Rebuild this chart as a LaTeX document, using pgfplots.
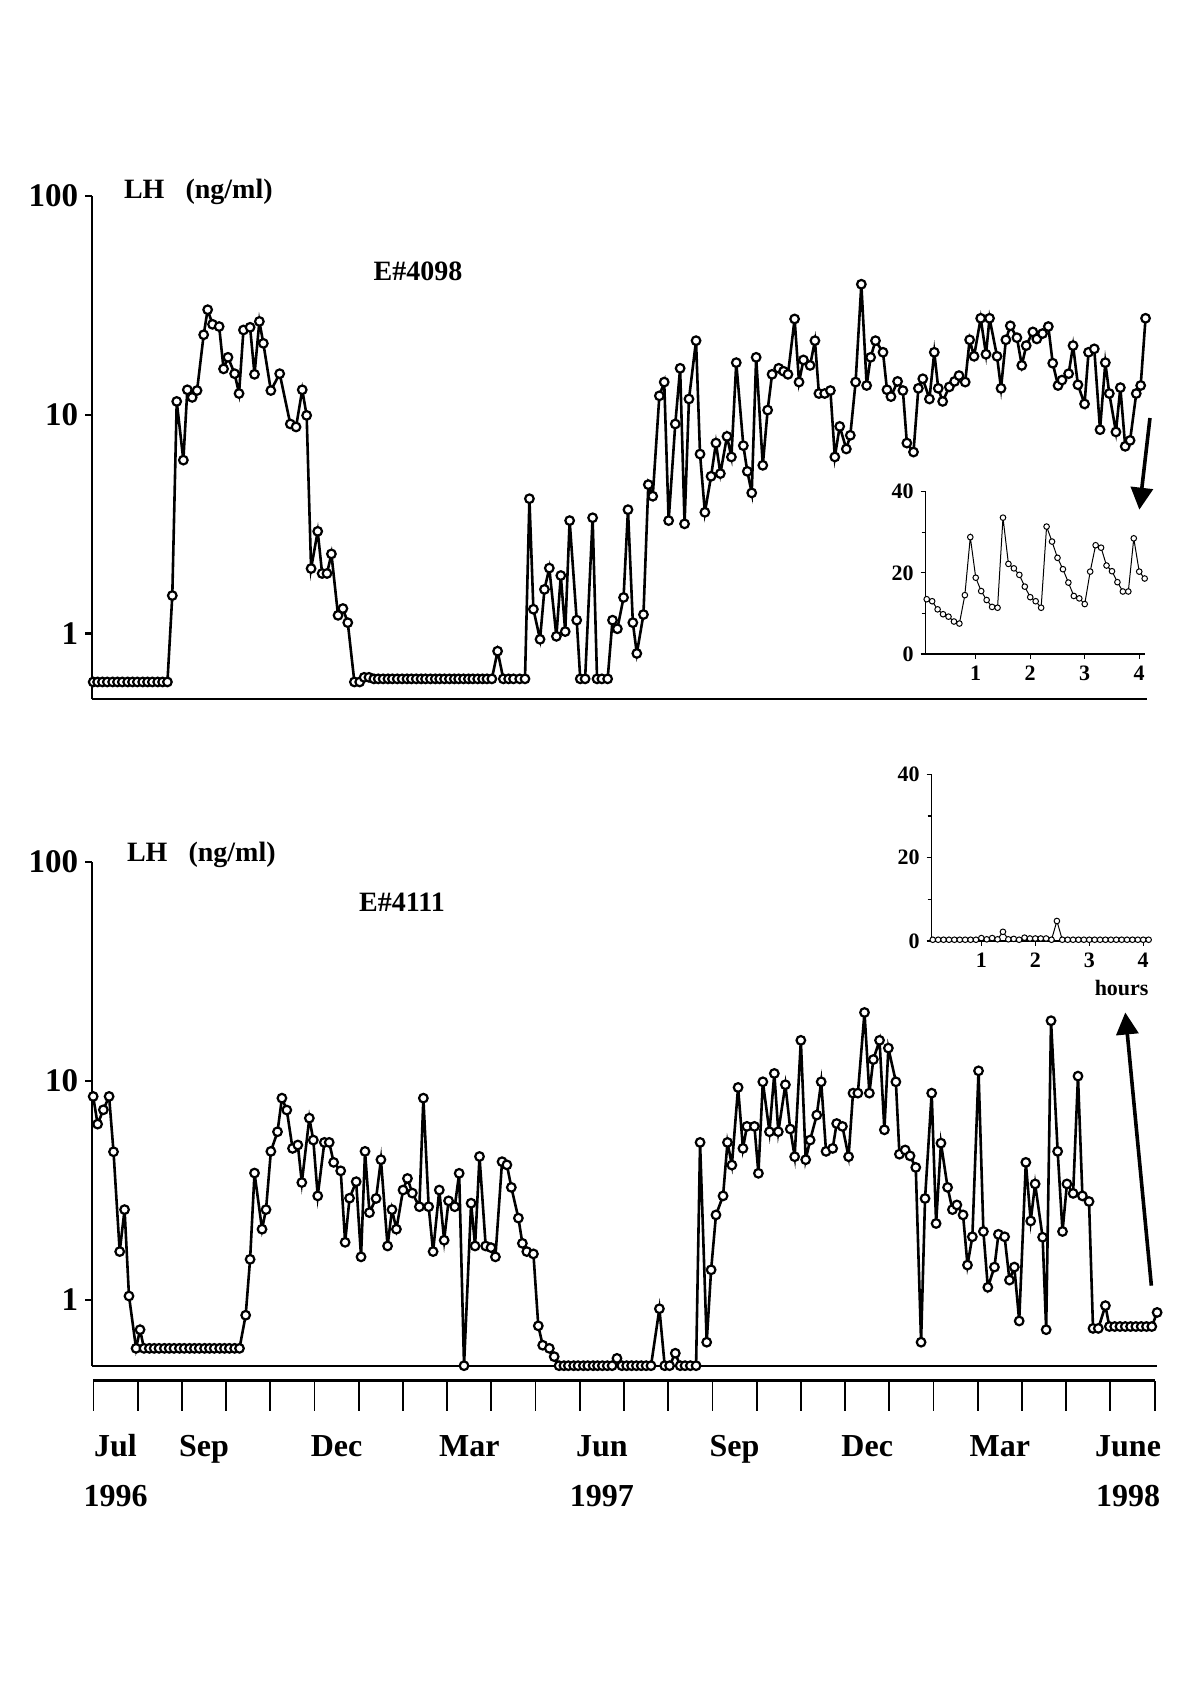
\documentclass[border=0pt]{standalone}
\usepackage{fontspec}
\setmainfont{Liberation Serif}
\usepackage{pgfplots}
\pgfplotsset{compat=1.18}
\usetikzlibrary{arrows.meta}

\pgfplotstableread{
x y
0.00 0.60
0.10 0.60
0.21 0.60
0.32 0.60
0.44 0.60
0.55 0.60
0.66 0.60
0.78 0.60
0.89 0.60
1.00 0.60
1.12 0.60
1.23 0.60
1.34 0.60
1.46 0.60
1.57 0.60
1.68 0.60
1.79 1.49
1.89 11.5
2.04 6.2
2.13 13.0
2.24 12.0
2.35 12.9
2.50 23.2
2.59 30.2
2.70 25.9
2.85 25.3
2.95 16.2
3.05 18.3
3.20 15.4
3.30 12.5
3.40 24.4
3.55 25.1
3.65 15.3
3.76 26.7
3.85 21.2
4.02 12.9
4.22 15.4
4.46 9.07
4.59 8.79
4.73 13.0
4.83 9.93
4.93 1.98
5.08 2.93
5.18 1.88
5.29 1.88
5.39 2.31
5.54 1.21
5.65 1.30
5.76 1.12
5.91 0.60
6.03 0.60
6.13 0.63
6.24 0.63
6.35 0.62
6.45 0.62
6.56 0.62
6.67 0.62
6.77 0.62
6.88 0.62
6.99 0.62
7.10 0.62
7.20 0.62
7.31 0.62
7.42 0.62
7.52 0.62
7.63 0.62
7.74 0.62
7.84 0.62
7.95 0.62
8.06 0.62
8.17 0.62
8.27 0.62
8.38 0.62
8.49 0.62
8.59 0.62
8.70 0.62
8.81 0.62
8.91 0.62
9.02 0.62
9.15 0.83
9.28 0.62
9.40 0.62
9.51 0.62
9.65 0.62
9.77 0.62
9.87 4.13
9.96 1.29
10.11 0.94
10.21 1.59
10.32 1.99
10.48 0.97
10.58 1.84
10.68 1.02
10.78 3.28
10.94 1.15
11.02 0.62
11.13 0.62
11.30 3.38
11.40 0.62
11.51 0.62
11.64 0.62
11.75 1.15
11.86 1.05
12.00 1.46
12.10 3.68
12.21 1.12
12.30 0.81
12.45 1.22
12.56 4.79
12.66 4.24
12.81 12.2
12.92 14.1
13.02 3.28
13.17 9.07
13.28 16.3
13.38 3.17
13.48 11.8
13.64 21.8
13.73 6.61
13.84 3.58
13.98 5.23
14.09 7.42
14.19 5.38
14.34 7.96
14.44 6.41
14.55 17.3
14.71 7.22
14.80 5.51
14.90 4.39
15.00 18.3
15.15 5.87
15.26 10.5
15.36 15.3
15.51 16.3
15.62 15.8
15.72 15.3
15.87 27.4
15.97 14.1
16.07 17.8
16.22 16.8
16.33 21.8
16.42 12.5
16.55 12.5
16.68 12.9
16.78 6.41
16.89 8.84
17.04 6.97
17.13 8.05
17.25 14.1
17.38 39.5
17.50 13.6
17.59 18.3
17.70 21.8
17.87 19.3
17.96 13.0
18.05 12.1
18.20 14.2
18.32 12.9
18.41 7.42
18.56 6.75
18.67 13.2
18.77 14.6
18.92 11.8
19.03 19.3
19.12 13.2
19.22 11.5
19.37 13.4
19.49 14.2
19.59 15.1
19.73 14.1
19.83 22.0
19.93 18.5
20.08 27.6
20.20 18.9
20.28 27.6
20.45 18.5
20.54 13.2
20.65 22.0
20.75 25.5
20.90 22.5
21.01 16.8
21.11 20.7
21.26 23.9
21.35 22.2
21.48 23.5
21.61 25.3
21.71 17.2
21.83 13.6
21.92 14.4
22.07 15.4
22.17 20.7
22.28 13.7
22.43 11.2
22.52 19.3
22.65 20.0
22.78 8.54
22.90 17.3
22.99 12.5
23.14 8.34
23.24 13.3
23.35 7.17
23.46 7.63
23.60 12.5
23.70 13.6
23.81 27.6
}\topdata

\pgfplotstableread{
x y
0.00 8.48
0.10 6.34
0.23 7.37
0.36 8.48
0.46 4.74
0.60 1.66
0.71 2.58
0.81 1.04
0.97 0.60
1.06 0.73
1.15 0.60
1.27 0.60
1.38 0.60
1.49 0.60
1.61 0.60
1.72 0.60
1.83 0.60
1.95 0.60
2.06 0.60
2.18 0.60
2.29 0.60
2.40 0.60
2.52 0.60
2.63 0.60
2.74 0.60
2.86 0.60
2.97 0.60
3.08 0.60
3.20 0.60
3.31 0.60
3.45 0.85
3.55 1.53
3.65 3.79
3.82 2.10
3.91 2.58
4.02 4.76
4.17 5.85
4.27 8.33
4.38 7.35
4.51 4.91
4.63 5.09
4.72 3.43
4.89 6.75
4.98 5.36
5.08 2.98
5.23 5.23
5.34 5.23
5.44 4.24
5.60 3.88
5.70 1.83
5.80 2.91
5.95 3.46
6.06 1.57
6.15 4.76
6.25 2.50
6.40 2.90
6.51 4.36
6.66 1.76
6.76 2.58
6.86 2.10
7.01 3.17
7.11 3.58
7.22 3.07
7.38 2.66
7.47 8.33
7.59 2.66
7.69 1.66
7.83 3.17
7.94 1.87
8.04 2.83
8.18 2.66
8.28 3.78
8.39 0.50
8.55 2.76
8.64 1.76
8.74 4.51
8.88 1.76
9.00 1.73
9.10 1.57
9.25 4.27
9.36 4.13
9.46 3.26
9.62 2.36
9.71 1.81
9.81 1.66
9.96 1.62
10.07 0.76
10.17 0.62
10.32 0.60
10.43 0.55
10.54 0.50
10.65 0.50
10.75 0.50
10.87 0.50
10.97 0.50
11.09 0.50
11.19 0.50
11.31 0.50
11.41 0.50
11.52 0.50
11.63 0.50
11.74 0.50
11.85 0.54
11.96 0.50
12.07 0.50
12.18 0.50
12.29 0.50
12.40 0.50
12.51 0.50
12.62 0.50
12.81 0.91
12.93 0.50
13.04 0.50
13.17 0.57
13.28 0.50
13.39 0.50
13.51 0.50
13.64 0.50
13.73 5.23
13.88 0.64
13.98 1.37
14.09 2.44
14.25 2.98
14.35 5.23
14.45 4.12
14.59 9.32
14.70 4.91
14.79 6.19
14.96 6.19
15.05 3.78
15.15 9.89
15.30 5.85
15.41 10.8
15.50 5.85
15.66 9.59
15.77 6.02
15.87 4.50
16.01 15.3
16.12 4.36
16.22 5.36
16.37 6.97
16.47 9.89
16.58 4.76
16.73 4.91
16.82 6.38
16.95 6.19
17.09 4.50
17.19 8.78
17.30 8.78
17.45 20.5
17.56 8.78
17.65 12.5
17.79 15.3
17.90 5.97
17.99 14.1
18.16 9.89
18.24 4.62
18.37 4.83
18.48 4.54
18.61 4.02
18.73 0.64
18.82 2.90
18.97 8.78
19.07 2.23
19.18 5.19
19.33 3.26
19.44 2.58
19.54 2.71
19.68 2.44
19.78 1.44
19.89 1.94
20.03 11.1
20.14 2.05
20.24 1.14
20.39 1.41
20.48 1.99
20.62 1.94
20.73 1.23
20.84 1.41
20.95 0.80
21.10 4.24
21.21 2.29
21.31 3.38
21.48 1.93
21.56 0.73
21.67 18.8
21.82 4.76
21.93 2.05
22.03 3.38
22.17 3.06
22.28 10.5
22.38 2.98
22.53 2.81
22.62 0.74
22.74 0.74
22.90 0.94
22.99 0.755
23.11 0.755
23.23 0.755
23.35 0.755
23.47 0.755
23.59 0.755
23.71 0.755
23.83 0.755
23.95 0.755
24.07 0.875
}\botdata

\pgfplotstableread{
h v
0.1 13.5
0.2 13.0
0.3 11.0
0.4 9.8
0.5 9.2
0.6 8.0
0.7 7.5
0.8 14.5
0.9 28.8
1.0 18.8
1.1 15.5
1.2 13.3
1.3 11.6
1.4 11.4
1.5 33.6
1.6 22.2
1.7 21.1
1.8 19.5
1.9 16.6
2.0 14.0
2.1 13.0
2.2 11.4
2.3 31.4
2.4 27.7
2.5 23.7
2.6 20.9
2.7 17.6
2.8 14.3
2.9 13.7
3.0 12.3
3.1 20.3
3.2 26.8
3.3 26.2
3.4 21.8
3.5 20.4
3.6 17.7
3.7 15.4
3.8 15.4
3.9 28.5
4.0 20.3
4.1 18.6
}\insettop

\pgfplotstableread{
h v
0.1 0.3
0.2 0.3
0.3 0.3
0.4 0.3
0.5 0.3
0.6 0.3
0.7 0.3
0.8 0.3
0.9 0.3
1.0 0.7
1.1 0.4
1.2 0.7
1.3 0.4
1.4 2.2
1.5 0.4
1.6 0.5
1.7 0.3
1.8 0.8
1.9 0.6
2.0 0.6
2.1 0.6
2.2 0.6
2.3 0.3
2.4 4.8
2.5 0.3
2.6 0.3
2.7 0.3
2.8 0.3
2.9 0.3
3.0 0.3
3.1 0.3
3.2 0.3
3.3 0.3
3.4 0.3
3.5 0.3
3.6 0.3
3.7 0.3
3.8 0.3
3.9 0.3
4.0 0.3
4.1 0.3
}\insetbot

\pgfplotsset{
  mainax/.style={
    scale only axis, anchor=south west,
    ymin=0.5, ymax=100, xmin=-0.02,
    axis x line*=bottom, axis y line*=left,
    axis line style={line width=1.1pt},
    xtick=\empty,
    ytick={1,10,100}, yticklabels={1,10,100},
    yminorticks=false,
    tick align=outside, major tick length=3.5pt,
    tick style={line width=1.1pt, black},
    yticklabel style={font=\bfseries\fontsize{16.5}{16.5}\selectfont},
    clip=false,
  },
  mainplot/.style={black, line width=1.3pt, mark=*, mark size=2.15pt,
    mark options={fill=white, draw=black, line width=1.1pt, solid}},
  insetax/.style={
    scale only axis, anchor=south west,
    xmin=0.08, ymin=0, ymax=40,
    axis x line*=bottom, axis y line*=left,
    axis line style={line width=0.6pt},
    xtick={1,2,3,4}, ytick={0,20,40}, minor ytick={10,30},
    tick align=outside, major tick length=2.5pt, minor tick length=2pt,
    tick style={line width=0.6pt, black},
    ticklabel style={font=\bfseries\fontsize{11}{11}\selectfont},
    /pgf/number format/assume math mode=true,
    clip=false,
  },
  insetplot/.style={black, line width=0.5pt, mark=*, mark size=1.4pt,
    mark options={fill=white, draw=black, line width=0.5pt, solid}},
}
\tikzset{mlab/.style={font=\bfseries\fontsize{16}{16}\selectfont, anchor=base}}

\begin{document}
\begin{tikzpicture}
\path[use as bounding box] (0,0) rectangle (599pt,848pt);

% top main panel
\begin{semilogyaxis}[mainax, at={(46.15pt,498.35pt)}, width=527.5pt, height=251.65pt, xmax=23.85]
\addplot[mainplot] table[x=x,y=y] {\topdata};
\draw[line width=1.8pt, -{Triangle[length=11pt,width=11pt]}] (axis cs:23.91,9.66) -- (axis cs:23.67,3.68);
\end{semilogyaxis}
\node[anchor=west, font=\bfseries\fontsize{14}{14}\selectfont] at (58.5pt,752pt) {LH\ \ \ (ng/ml)};
\node[font=\bfseries\fontsize{14}{14}\selectfont] at (209pt,712.5pt) {E\#4098};

% top inset
\begin{axis}[insetax, at={(462.8pt,521pt)}, width=109.8pt, height=81.15pt, xmax=4.11]
\addplot[insetplot] table[x=h,y=v] {\insettop};
\end{axis}

% bottom main panel
\begin{semilogyaxis}[mainax, at={(46.15pt,165.15pt)}, width=532.4pt, height=251.96pt, xmax=24.07]
\addplot[mainplot] table[x=x,y=y] {\botdata};
\draw[line width=1.8pt, -{Triangle[length=11pt,width=11pt]}] (axis cs:23.94,1.16) -- (axis cs:23.35,20.5);
\end{semilogyaxis}
\node[anchor=west, font=\bfseries\fontsize{14}{14}\selectfont] at (60pt,420.5pt) {LH\ \ \ (ng/ml)};
\node[font=\bfseries\fontsize{14}{14}\selectfont] at (201pt,397pt) {E\#4111};

% bottom inset
\begin{axis}[insetax, at={(465.85pt,377.5pt)}, width=109pt, height=83.3pt, xmax=4.12]
\addplot[insetplot] table[x=h,y=v] {\insetbot};
\node[font=\bfseries\fontsize{11}{11}\selectfont] at (axis cs:3.6,-11.2) {hours};
\end{axis}

% time axis
\begin{axis}[scale only axis, anchor=south west, at={(46.7pt,157.7pt)},
  width=530.6pt, height=10pt, xmin=0, xmax=24, ymin=0, ymax=1,
  axis x line*=bottom, hide y axis,
  xtick={0,...,24}, xticklabels={},
  tick align=outside, major tick length=15.2pt,
  tick style={line width=0.9pt, black},
  axis line style={line width=1.2pt}, clip=false]
\addplot[draw=none] coordinates {(0,0.5)};
\node[mlab] at (axis cs:0.5,-3.8) {Jul};
\node[mlab] at (axis cs:2.5,-3.8) {Sep};
\node[mlab] at (axis cs:5.5,-3.8) {Dec};
\node[mlab] at (axis cs:8.5,-3.8) {Mar};
\node[mlab] at (axis cs:11.5,-3.8) {Jun};
\node[mlab] at (axis cs:14.5,-3.8) {Sep};
\node[mlab] at (axis cs:17.5,-3.8) {Dec};
\node[mlab] at (axis cs:20.5,-3.8) {Mar};
\node[mlab] at (axis cs:23.4,-3.8) {June};
\node[mlab] at (axis cs:0.5,-6.27) {1996};
\node[mlab] at (axis cs:11.5,-6.27) {1997};
\node[mlab] at (axis cs:23.4,-6.27) {1998};
\end{axis}
\end{tikzpicture}
\end{document}
